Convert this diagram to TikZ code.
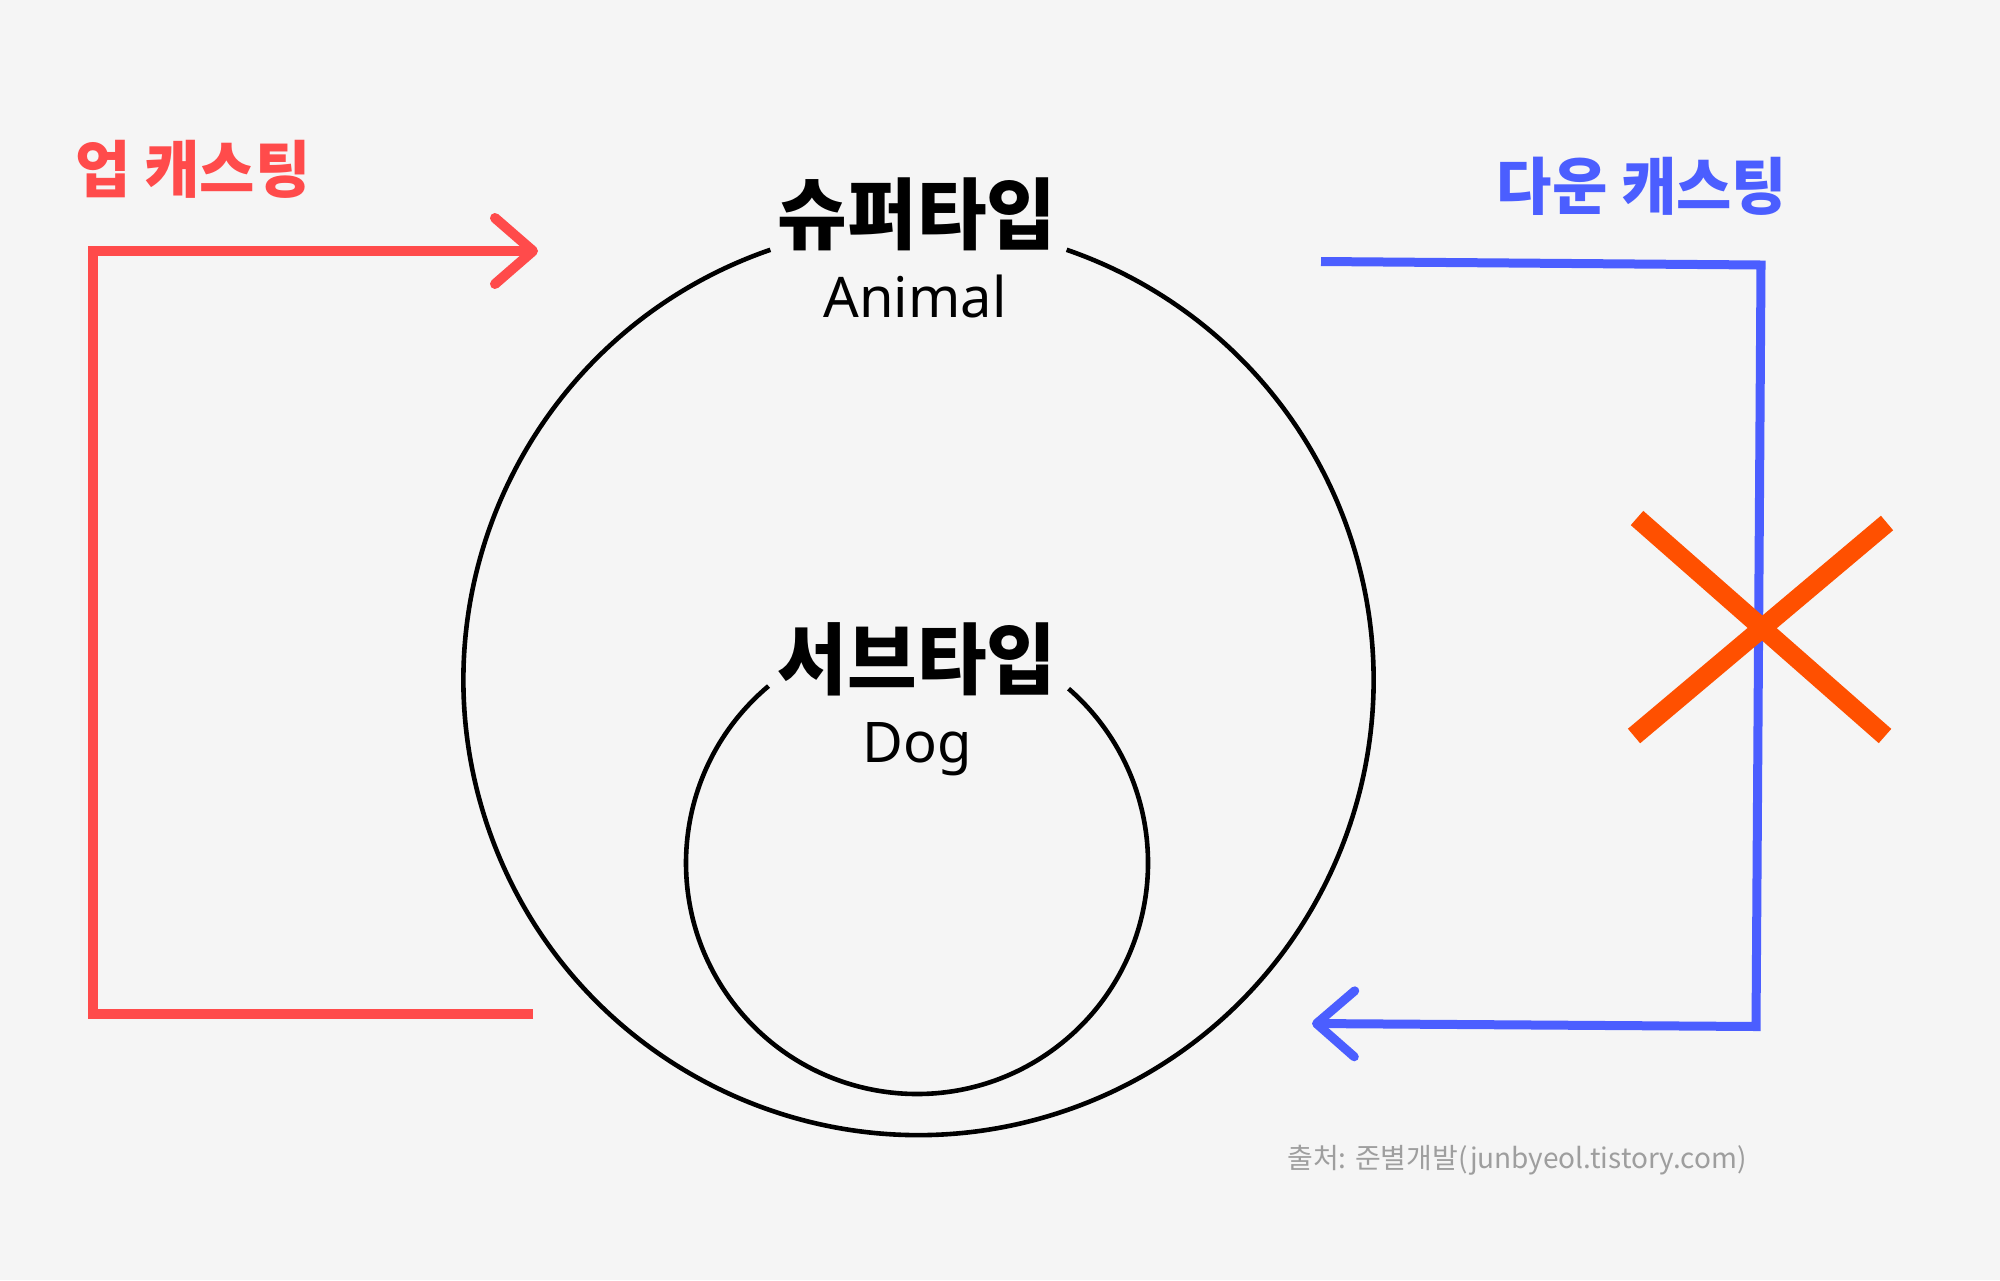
\documentclass[tikz,border=0pt]{standalone}
\usepackage{fontspec}
\usetikzlibrary{arrows.meta}
\newfontfamily\krfont[FakeStretch=0.97]{Noto Sans CJK KR}
\newfontfamily\footfont{Noto Sans CJK KR}
\newfontfamily\latfont{Noto Sans}
\definecolor{bgcol}{HTML}{F5F5F5}
\definecolor{upred}{HTML}{FF4B4B}
\definecolor{downblue}{HTML}{4B5EFF}
\definecolor{xorange}{HTML}{FF5000}
\definecolor{footgray}{HTML}{9E9E9E}
\tikzset{
  ring/.style={draw=black, line width=2.3pt},
  castlabel/.style={inner sep=0pt, font=\krfont\bfseries\fontsize{31pt}{31pt}\selectfont},
  typelabel/.style={inner sep=0pt, font=\krfont\bfseries\fontsize{39pt}{39pt}\selectfont},
  namelabel/.style={inner sep=0pt, anchor=base, font=\latfont\fontsize{28pt}{28pt}\selectfont},
  castpath/.style={line width=#1, line join=miter, -{Straight Barb[length=19pt, width=33pt, line cap=round, line join=round]}},
  crossline/.style={draw=xorange, line width=9.5pt, line cap=butt},
}
\begin{document}
\begin{tikzpicture}[x=0.5pt,y=-0.5pt]
\fill[bgcol] (0,0) rectangle (2000,1280);
\useasboundingbox (0,0) rectangle (2000,1280);

% circles (with gaps for the titles)
\coordinate (bigc) at (918.5,680);
\coordinate (smallc) at (917,863);
\draw[ring] (bigc) ++(-109:455) arc[start angle=-109, end angle=-431, radius=455];
\draw[ring] (smallc) ++(-130:231) arc[start angle=-130, end angle=-409, radius=231];

% titles
\node[typelabel] (super) at (917,214) {슈퍼타입};
\node[namelabel] (animal) at (915,317) {Animal};
\node[typelabel] (sub) at (917,659) {서브타입};
\node[namelabel] (dog) at (917,762) {Dog};

% up casting
\node[castlabel, text=upred] (uplabel) at (193,169) {업 캐스팅};
\coordinate (upstart) at (533,1014);
\coordinate (upbl) at (93,1014);
\coordinate (uptl) at (93,251);
\coordinate (upend) at (538,251);
\draw[castpath=5pt, draw=upred] (upstart) -- (upbl) -- (uptl) -- (upend);

% down casting
\node[castlabel, text=downblue] (downlabel) at (1642,186) {다운 캐스팅};
\coordinate (downstart) at (1321,261.5);
\coordinate (downtr) at (1761,265);
\coordinate (downbr) at (1756,1026.5);
\coordinate (downend) at (1312,1023.5);
\draw[castpath=4.5pt, draw=downblue] (downstart) -- (downtr) -- (downbr) -- (downend);

% cross mark
\coordinate (xa) at (1637,518);
\coordinate (xb) at (1885,736);
\coordinate (xc) at (1887,523);
\coordinate (xd) at (1634,736);
\draw[crossline] (xa) -- (xb);
\draw[crossline] (xc) -- (xd);

% source
\node[inner sep=0pt, text=footgray, font=\footfont\fontsize{14pt}{14pt}\selectfont] (source) at (1517,1160) {출처: 준별개발(junbyeol.tistory.com)};
\end{tikzpicture}
\end{document}
